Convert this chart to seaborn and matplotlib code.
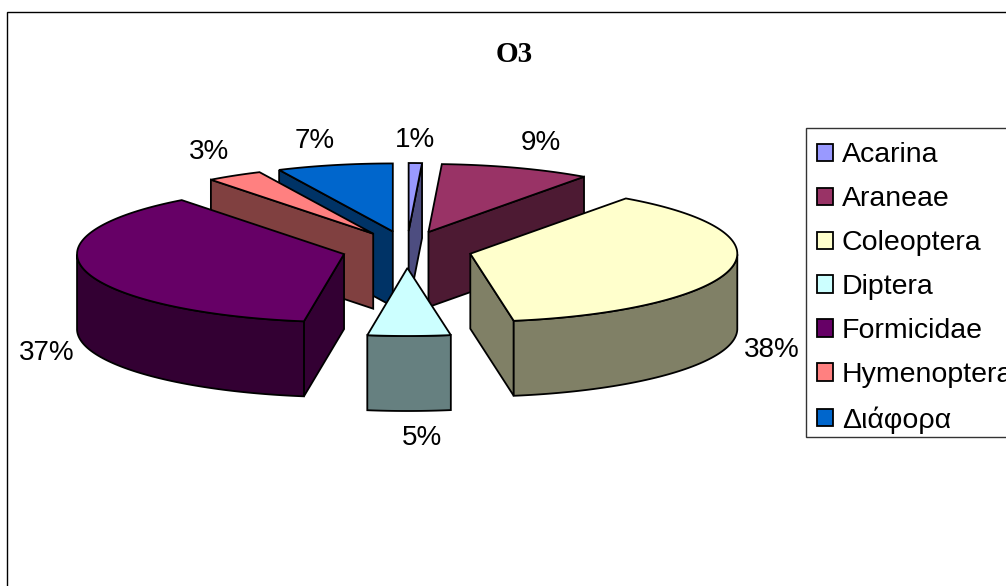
import numpy as np
import matplotlib
matplotlib.use("Agg")
import matplotlib.pyplot as plt
from matplotlib.patches import Polygon, Patch, Rectangle
import seaborn as sns

# ---- data ----
categories = ["Acarina", "Araneae", "Coleoptera", "Diptera", "Formicidae", "Hymenoptera", "Διάφορα"]
values = [0.8, 9.1, 37.5, 5.0, 37.2, 3.4, 7.0]
top_colors = ["#9999FF", "#993366", "#FFFFCC", "#CCFFFF", "#660066", "#FF8080", "#0066CC"]
side_colors = ["#4D4D80", "#4D1A33", "#808066", "#668080", "#330033", "#804040", "#003366"]
title = "O3"

# ---- layout ----
W, H = 1006, 586
CX, CY = 407, 249.5
RX, RY = 267, 68
EXPLODE_X, EXPLODE_Y = 65, 18.5
DEPTH = 75
LABEL_PAD_X, LABEL_PAD_Y = 40, 25
DRAW_ORDER = [6, 0, 1, 5, 2, 4, 3]
LABEL_NUDGE = [(-1, 2), (11, -1), (3, 0), (13, 2), (0, 1), (-5, -2), (-11, 0)]

sns.set_theme(style="white")
plt.rcParams["font.family"] = ["Liberation Sans", "DejaVu Sans"]
palette = sns.color_palette(top_colors)
side_palette = sns.color_palette(side_colors)

fig = plt.figure(figsize=(W / 100, H / 100), dpi=100, facecolor="white")
ax = fig.add_axes([0, 0, 1, 1])
ax.set_xlim(0, W)
ax.set_ylim(H, 0)
ax.axis("off")

# chart frame runs off the right and bottom of the picture
ax.add_patch(Rectangle((7.5, 11.5), W + 20, H + 20, fc="white", ec="black", lw=1.0, zorder=0))

total = sum(values)
edges = np.concatenate([[0], np.cumsum(values)]) / total * 2 * np.pi
LW = 1.3


def slice_geometry(i):
    a0, a1 = edges[i], edges[i + 1]
    mid = (a0 + a1) / 2
    tx = CX + EXPLODE_X * np.sin(mid)
    ty = CY - EXPLODE_Y * np.cos(mid)
    t = np.linspace(a0, a1, max(3, int((a1 - a0) * 60)))
    arc = np.column_stack([tx + RX * np.sin(t), ty - RY * np.cos(t)])
    return (tx, ty), arc, mid


def quad(p, q):
    return [p, q, (q[0], q[1] + DEPTH), (p[0], p[1] + DEPTH)]


z = 1
for i in DRAW_ORDER:
    tip, arc, mid = slice_geometry(i)
    side = side_palette[i]
    s0, s1 = arc[0], arc[-1]
    # a cut face shows only when its outward normal points down the screen
    faces = []
    if (s0[0] - tip[0]) < 0:
        faces.append((tip, tuple(s0)))
    if (s1[0] - tip[0]) > 0:
        faces.append((tip, tuple(s1)))
    for p, q in faces:
        ax.add_patch(Polygon(quad(p, q), closed=True, fc=side, ec="black", lw=LW, zorder=z))
        z += 1
    # rim: the part of the arc on the near half of the ellipse
    dx = np.gradient(arc[:, 0])
    vis = dx < 0
    if vis.any():
        r = arc[vis]
        poly = np.vstack([r, r[::-1] + [0, DEPTH]])
        ax.add_patch(Polygon(poly, closed=True, fc=side, ec="black", lw=LW, zorder=z))
        z += 1
    top = np.vstack([[tip], arc])
    ax.add_patch(Polygon(top, closed=True, fc=palette[i], ec="black", lw=LW, zorder=z))
    z += 1

# percentage labels
for i, v in enumerate(values):
    tip, arc, mid = slice_geometry(i)
    c = np.cos(mid)
    x = tip[0] + (RX + LABEL_PAD_X) * np.sin(mid) + LABEL_NUDGE[i][0]
    y = tip[1] - (RY + LABEL_PAD_Y) * c + (DEPTH if c < 0 else 0) + LABEL_NUDGE[i][1]
    ax.text(x, y, f"{round(v / total * 100)}%", ha="center", va="center",
            fontsize=20, color="black", zorder=z + 1)

ax.text(514, 54, title, ha="center", va="center", fontsize=21, fontweight="bold",
        family="Liberation Serif", color="black", zorder=z + 1)

# legend box (runs off the right edge of the picture) and its entries
ax.add_patch(Rectangle((806.5, 127.5), W, 309, fc="white", ec="#333333", lw=1.0, zorder=z + 1))
handles = [Patch(fc=palette[i], ec="black", lw=1.3) for i in range(len(categories))]
leg = ax.legend(handles, categories, loc="upper left",
                bbox_to_anchor=(806, 131), bbox_transform=ax.transData,
                fontsize=20.5, labelcolor="black", frameon=False, borderaxespad=0,
                handlelength=0.56, handleheight=0.56, handletextpad=0.3,
                labelspacing=0.63, borderpad=0.4)
leg.set_zorder(z + 2)

fig.savefig("out.png", dpi=100, facecolor="white")
